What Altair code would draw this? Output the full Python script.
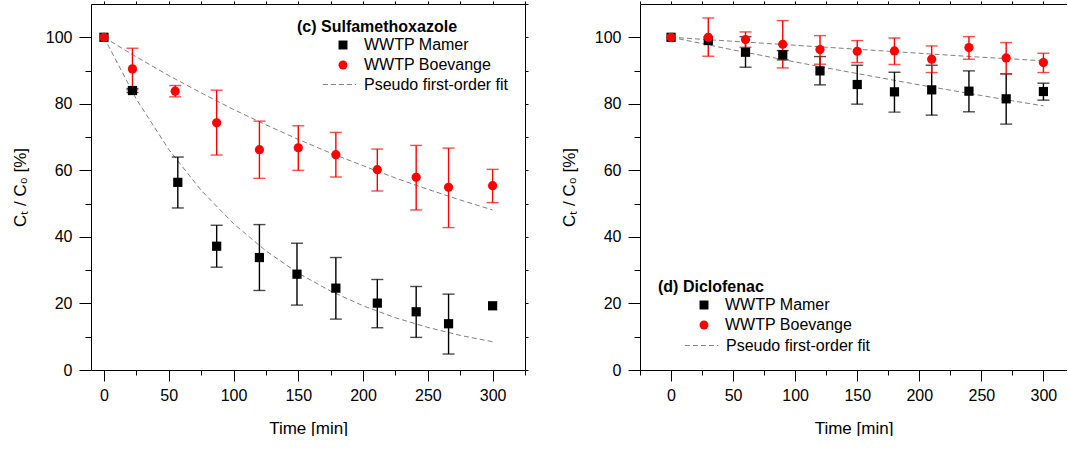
import altair as alt
import pandas as pd

# ---------------- data ----------------
# Panel (c) Sulfamethoxazole
c_t_mamer = [0, 22, 57, 87, 120, 149, 179, 211, 241, 266, 300]
c_v_mamer = [100, 84.0, 56.4, 37.2, 33.8, 28.8, 24.6, 20.1, 17.5, 13.9, 19.3]
c_hi_mamer = [None, 84.6, 64.0, 43.5, 43.7, 38.1, 33.8, 27.2, 25.1, 22.8, None]
c_lo_mamer = [None, 83.4, 48.7, 30.9, 23.9, 19.5, 15.3, 12.7, 9.8, 4.8, None]

c_t_boev = [0, 22, 55, 87, 120, 150, 179, 211, 241, 266, 300]
c_v_boev = [100, 90.5, 83.8, 74.3, 66.2, 66.8, 64.7, 60.2, 57.9, 54.9, 55.4]
c_hi_boev = [None, 96.7, 85.5, 84.1, 74.8, 73.4, 71.4, 66.4, 67.5, 66.7, 60.3]
c_lo_boev = [None, 84.2, 82.1, 64.6, 57.6, 60.0, 58.0, 53.8, 48.1, 42.8, 50.3]

fit_t = [0, 25, 50, 75, 100, 125, 150, 175, 200, 225, 250, 275, 300]
c_fit_mamer = [100, 81.4, 66.3, 54.0, 44.0, 35.8, 29.1, 23.7, 19.3, 15.7, 12.8, 10.4, 8.5]
c_fit_boev = [100, 94.1, 88.5, 83.3, 78.3, 73.7, 69.3, 65.2, 61.4, 57.7, 54.3, 51.1, 48.1]

# Panel (d) Diclofenac
d_t = [0, 30, 60, 90, 120, 150, 180, 210, 240, 270, 300]
d_v_mamer = [100, 99.0, 95.5, 94.7, 89.9, 85.8, 83.6, 84.2, 83.8, 81.5, 83.7]
d_hi_mamer = [None, None, 100.2, 96.0, 94.2, 91.6, 89.5, 91.6, 89.9, 89.0, 86.2]
d_lo_mamer = [None, None, 91.0, 93.2, 85.7, 79.9, 77.5, 76.6, 77.6, 73.9, 81.1]

d_v_boev = [100, 100.0, 99.3, 97.9, 96.3, 95.8, 95.9, 93.4, 96.9, 93.8, 92.4]
d_hi_boev = [None, 105.8, 101.6, 105.0, 100.5, 99.0, 99.8, 97.4, 100.2, 98.4, 95.2]
d_lo_boev = [None, 94.3, 97.0, 90.8, 91.9, 92.4, 91.8, 89.4, 93.4, 89.0, 89.4]

d_fit_mamer = [100, 98.1, 96.2, 94.4, 92.6, 90.8, 89.1, 87.4, 85.7, 84.1, 82.5, 80.9, 79.4]
d_fit_boev = [100, 99.4, 98.8, 98.2, 97.6, 97.0, 96.4, 95.8, 95.2, 94.6, 94.0, 93.5, 92.9]

SERIES = ["WWTP Mamer", "WWTP Boevange"]
FIT = "Pseudo first-order fit"
FONT = "Liberation Sans"
YTITLE = "C\u209c / C\u2080 [%]"


def points_df(tm, vm, hm, lm, tb, vb, hb, lb):
    rows = []
    for t, v, h, l in zip(tm, vm, hm, lm):
        rows.append({"series": SERIES[0], "t": t, "v": v, "hi": h, "lo": l})
    for t, v, h, l in zip(tb, vb, hb, lb):
        rows.append({"series": SERIES[1], "t": t, "v": v, "hi": h, "lo": l})
    return pd.DataFrame(rows)


def fit_df(fm, fb):
    rows = []
    for t, v in zip(fit_t, fm):
        rows.append({"series": SERIES[0], "t": t, "v": v, "fit": FIT})
    for t, v in zip(fit_t, fb):
        rows.append({"series": SERIES[1], "t": t, "v": v, "fit": FIT})
    return pd.DataFrame(rows)


def panel(title, pdf, fdf, xdom, xvals, width, leg_xy, fit_xy, right_axis):
    xscale = alt.Scale(domain=xdom, nice=False, zero=False)
    yscale = alt.Scale(domain=[0, 110], nice=False)
    xaxis = alt.Axis(
        values=xvals,
        tickSize={"condition": {"test": "datum.value % 50 === 0", "value": 11}, "value": 5},
        labelExpr="(datum.value % 50 === 0 && datum.value >= 0) ? datum.label : ''",
        grid=False, labelPadding=6, titlePadding=17, labelFlush=False, labelOverlap=False,
    )
    yaxis = alt.Axis(
        values=list(range(0, 101, 10)),
        tickSize={"condition": {"test": "datum.value % 20 === 0", "value": 12}, "value": 6},
        labelExpr="(datum.value % 20 === 0) ? datum.label : ''",
        grid=False, labelPadding=7, titlePadding=16, labelFlush=False, labelOverlap=False,
    )
    X = alt.X("t:Q", scale=xscale, axis=xaxis, title="Time [min]")
    Y = alt.Y("v:Q", scale=yscale, axis=yaxis, title=YTITLE)
    Xn = alt.X("t:Q", scale=xscale, axis=None)
    Yn = alt.Y("v:Q", scale=yscale, axis=None)

    base = alt.Chart(pdf)

    fit = alt.Chart(fdf).mark_line(color="#808080", strokeWidth=1).encode(
        x=X, y=Y, detail="series:N",
        strokeDash=alt.StrokeDash(
            "fit:N",
            scale=alt.Scale(domain=[FIT], range=[[5, 3]]),
            legend=alt.Legend(
                title=None, orient="none", legendX=fit_xy[0], legendY=fit_xy[1],
                symbolType="stroke", symbolSize=1100, symbolStrokeColor="#808080",
                symbolStrokeWidth=1, labelFontSize=16, labelOffset=7, labelFont=FONT,
                labelColor="black",
            ),
        ),
    )

    layers = [fit]
    for s, col in zip(SERIES, ["black", "red"]):
        sel = base.transform_filter(alt.datum.series == s).transform_filter("isValid(datum.lo)")
        rule = sel.mark_rule(color=col, strokeWidth=1.4).encode(
            x=Xn, y=alt.Y("lo:Q", scale=yscale, axis=None), y2="hi:Q")
        caps = sel.transform_fold(["lo", "hi"], as_=["k", "val"]).mark_tick(
            color=col, orient="horizontal", size=12, thickness=1.4).encode(
            x=Xn, y=alt.Y("val:Q", scale=yscale, axis=None))
        layers += [rule, caps]

    leg = alt.Legend(
        title=title, orient="none", legendX=leg_xy[0], legendY=leg_xy[1],
        titleFont=FONT, titleFontSize=16, titleFontWeight="bold", titleColor="black",
        titlePadding=2, labelFont=FONT, labelFontSize=16, labelColor="black",
        symbolSize=80, symbolOffset=38, labelOffset=13, rowPadding=4,
        symbolStrokeWidth=0,
    )
    pts = base.mark_point(filled=True, opacity=1, size=85).encode(
        x=Xn, y=Yn,
        color=alt.Color("series:N", scale=alt.Scale(domain=SERIES, range=["black", "red"]), legend=leg),
        shape=alt.Shape("series:N", scale=alt.Scale(domain=SERIES, range=["square", "circle"]), legend=leg),
    )
    layers.append(pts)

    top_axis = alt.Axis(orient="top", values=xvals, tickSize=3, labels=False, title=None, grid=False)
    enc = dict(x=alt.X("t:Q", scale=xscale, axis=top_axis))
    if right_axis:
        enc["y"] = alt.Y("v:Q", scale=yscale,
                         axis=alt.Axis(orient="right", values=list(range(0, 111, 10)), tickSize=3,
                                       labels=False, title=None, grid=False))
    else:
        enc["y"] = Yn
    overlay = alt.Chart(fdf).mark_point(opacity=0).encode(**enc)
    layers.append(overlay)

    return alt.layer(*layers).resolve_axis(x="independent", y="independent").properties(
        width=width, height=366)


pc = points_df(c_t_mamer, c_v_mamer, c_hi_mamer, c_lo_mamer,
               c_t_boev, c_v_boev, c_hi_boev, c_lo_boev)
pd_ = points_df(d_t, d_v_mamer, d_hi_mamer, d_lo_mamer,
                d_t, d_v_boev, d_hi_boev, d_lo_boev)

left = panel("(c) Sulfamethoxazole", pc, fit_df(c_fit_mamer, c_fit_boev),
             [-10, 325], list(range(0, 326, 25)), 434, (206, 15), (231, 63), True)
right = panel("(d) Diclofenac", pd_, fit_df(d_fit_mamer, d_fit_boev),
              [-25, 319], list(range(-25, 301, 25)), 427, (18, 275), (44, 324), False)

chart = alt.hconcat(left, right, spacing=115, bounds="flush").resolve_scale(
    color="independent", shape="independent", strokeDash="independent",
    x="independent", y="independent",
).resolve_legend(
    color="independent", shape="independent", strokeDash="independent",
).properties(
    padding={"left": 11, "top": 0, "right": 0, "bottom": 0},
    background="white",
).configure_view(stroke=None).configure_axis(
    labelFont=FONT, titleFont=FONT, labelFontSize=16, titleFontSize=17,
    labelColor="black", titleColor="black", domainColor="black", tickColor="black",
    titleFontWeight="normal", domainWidth=1, tickWidth=1,
)

chart.save("out.html", embed_options={"renderer": "svg", "actions": False})
